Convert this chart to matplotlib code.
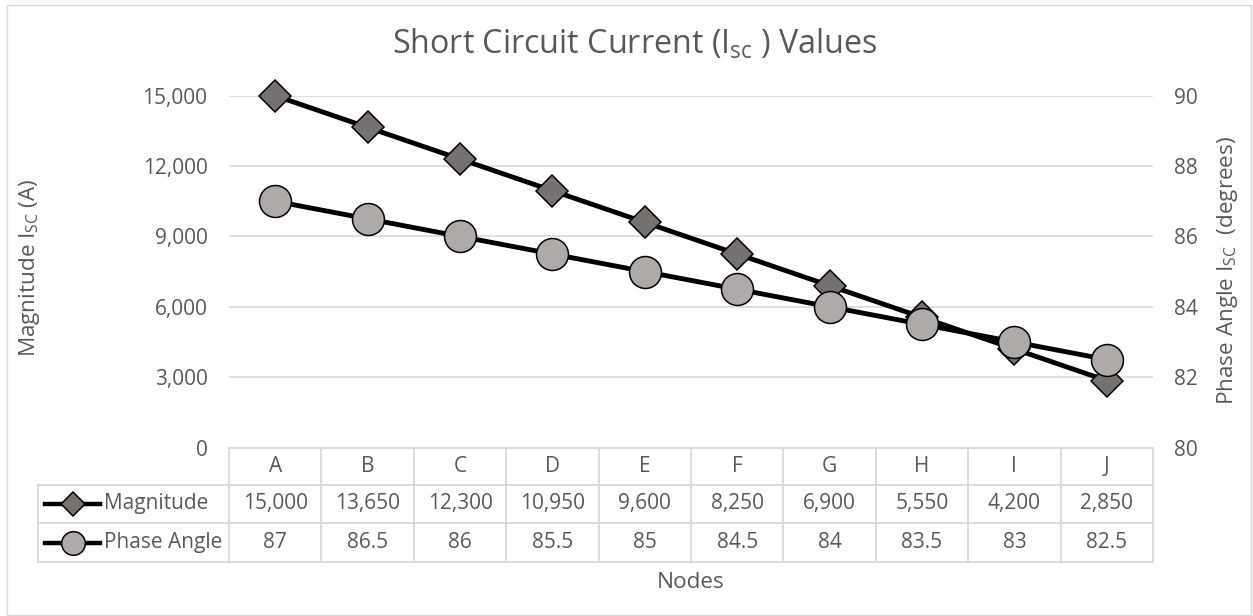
import matplotlib
matplotlib.use("Agg")
import matplotlib.pyplot as plt
from matplotlib.lines import Line2D
from matplotlib.patches import Rectangle
import matplotlib.transforms as mtransforms

plt.rcParams['font.family'] = ['Open Sans', 'DejaVu Sans']
plt.rcParams['mathtext.fontset'] = 'custom'
plt.rcParams['mathtext.rm'] = 'Open Sans'

nodes = ["A", "B", "C", "D", "E", "F", "G", "H", "I", "J"]
magnitude = [15000, 13650, 12300, 10950, 9600, 8250, 6900, 5550, 4200, 2850]
phase = [87, 86.5, 86, 85.5, 85, 84.5, 84, 83.5, 83, 82.5]
mag_ticks = [0, 3000, 6000, 9000, 12000, 15000]
phase_ticks = [80, 82, 84, 86, 88, 90]

TXT = "#595959"
GRID = "#D9D9D9"
DIAM = "#767171"
CIRC = "#AEAAAA"

W, H = 1253, 616
fig = plt.figure(figsize=(W / 100, H / 100), dpi=100)

# figure border
fig.patches.append(Rectangle((7 / W, 1 - 615 / H), (1251 - 7) / W, (615 - 5) / H,
                             transform=fig.transFigure, fill=False,
                             edgecolor=GRID, linewidth=1.0))

ax_l, ax_r, ax_t, ax_b = 229, 1153, 95.7, 447.5
ax = fig.add_axes([ax_l / W, 1 - ax_b / H, (ax_r - ax_l) / W, (ax_b - ax_t) / H])
x = list(range(len(nodes)))
ax.set_xlim(-0.5, len(nodes) - 0.5)
ax.set_ylim(0, 15000)
ax.set_yticks(mag_ticks)
ax.set_yticklabels([f"{v:,}" for v in mag_ticks])
ax.set_xticks([])
for s in ax.spines.values():
    s.set_visible(False)
ax.grid(axis='y', color=GRID, linewidth=1.2)
ax.set_axisbelow(True)
ax.tick_params(axis='y', length=0, pad=15.5, labelsize=15, labelcolor=TXT)
ax.plot(x, magnitude, color='black', linewidth=3.5, marker='D', markersize=16.5,
        markerfacecolor=DIAM, markeredgecolor='black', markeredgewidth=1.1,
        clip_on=False, zorder=3)

ax2 = ax.twinx()
ax2.set_ylim(80, 90)
ax2.set_yticks(phase_ticks)
for s in ax2.spines.values():
    s.set_visible(False)
ax2.tick_params(axis='y', length=0, pad=15, labelsize=15, labelcolor=TXT)
ax2.plot(x, phase, color='black', linewidth=3.5, marker='o', markersize=23,
         markerfacecolor=CIRC, markeredgecolor='black', markeredgewidth=1.1,
         clip_on=False, zorder=3)

# axis titles
fig.text(30 / W, 1 - 268 / H, r"Magnitude $\mathregular{I_{SC}}$ (A)", rotation=90,
         ha='center', va='center', fontsize=16.2, color=TXT)
fig.text(1227 / W, 1 - 271 / H, r"Phase Angle $\mathregular{I_{SC}}$  (degrees)", rotation=90,
         ha='center', va='center', fontsize=16.2, color=TXT)
fig.text(691 / W, 1 - 583 / H, "Nodes", ha='center', va='center', fontsize=16.2, color=TXT)
fig.text(635 / W, 1 - 44 / H, r"Short Circuit Current ($\mathregular{I_{sc}}$ ) Values",
         ha='center', va='center', fontsize=23.2, color=TXT)

# data table (x in data units, y in axes fraction)
tr = mtransforms.blended_transform_factory(ax.transData, ax.transAxes)
hpx = ax_b - ax_t
def yax(py):
    return (ax_b - py) / hpx
rows_y = [448, 485, 523, 562]
ry = [yax(v) for v in rows_y]
upx = (ax_r - ax_l) / len(nodes)
label_left = -0.5 - (229 - 38) / upx
lc = dict(color=GRID, linewidth=1.3, transform=tr, clip_on=False)
# horizontal lines
ax.add_line(Line2D([-0.5, len(nodes) - 0.5], [ry[0], ry[0]], **lc))
for yy in ry[1:]:
    ax.add_line(Line2D([label_left, len(nodes) - 0.5], [yy, yy], **lc))
# vertical lines
for i in range(len(nodes) + 1):
    xx = i - 0.5
    ax.add_line(Line2D([xx, xx], [ry[0], ry[3]], **lc))
ax.add_line(Line2D([label_left, label_left], [ry[1], ry[3]], **lc))

def mid(a, b):
    return (a + b) / 2
FS = 15
for i, n in enumerate(nodes):
    ax.text(i, mid(ry[0], ry[1]), n, transform=tr, ha='center', va='center',
            fontsize=FS, color=TXT)
    ax.text(i, mid(ry[1], ry[2]), f"{magnitude[i]:,}", transform=tr, ha='center',
            va='center', fontsize=FS, color=TXT)
    ax.text(i, mid(ry[2], ry[3]), f"{phase[i]:g}", transform=tr, ha='center',
            va='center', fontsize=FS, color=TXT)

# legend keys in the table
lx0 = label_left + (45 - 38) / upx
lx1 = label_left + (100 - 38) / upx
lxm = (lx0 + lx1) / 2
ax.add_line(Line2D([lx0, lx1], [mid(ry[1], ry[2])] * 2, color='black', linewidth=3.2,
                   transform=tr, clip_on=False))
ax.add_line(Line2D([lxm], [mid(ry[1], ry[2])], marker='D', markersize=12.5,
                   markerfacecolor=DIAM, markeredgecolor='black', markeredgewidth=1.1,
                   transform=tr, clip_on=False))
ax.add_line(Line2D([lx0, lx1], [mid(ry[2], ry[3])] * 2, color='black', linewidth=3.2,
                   transform=tr, clip_on=False))
ax.add_line(Line2D([lxm], [mid(ry[2], ry[3])], marker='o', markersize=17,
                   markerfacecolor=CIRC, markeredgecolor='black', markeredgewidth=1.1,
                   transform=tr, clip_on=False))
tx = label_left + (104 - 38) / upx
ax.text(tx, mid(ry[1], ry[2]), "Magnitude", transform=tr, ha='left', va='center',
        fontsize=FS, color=TXT)
ax.text(tx, mid(ry[2], ry[3]), "Phase Angle", transform=tr, ha='left', va='center',
        fontsize=FS, color=TXT)

fig.savefig("out.png", dpi=100)
